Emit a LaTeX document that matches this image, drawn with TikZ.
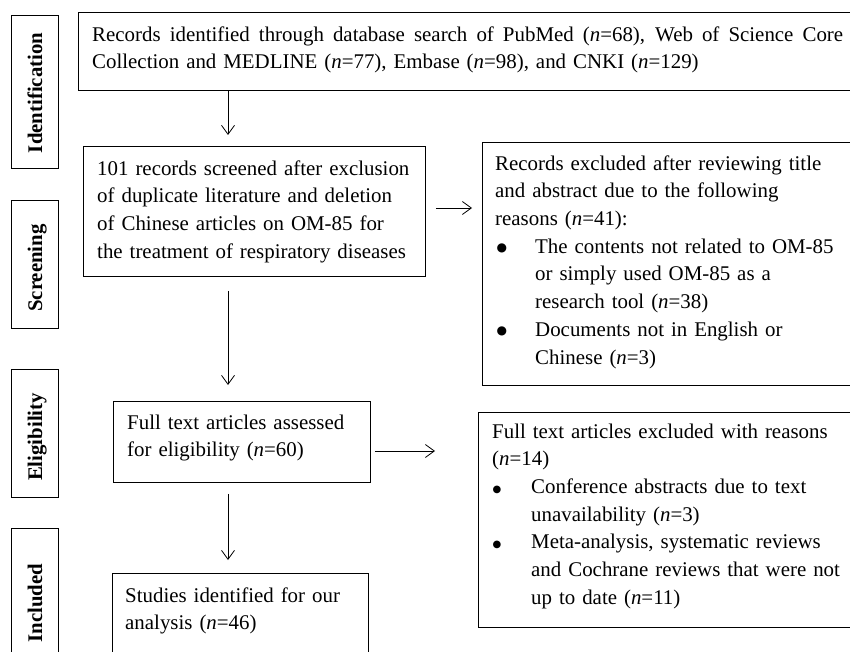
\documentclass[tikz,border=0pt]{standalone}
\usepackage{fontspec}
\setmainfont{Liberation Serif}
\newfontfamily\symfont{DejaVu Sans}
\usetikzlibrary{arrows.meta}
\newcommand\bodyfont{\fontsize{20.9}{27.7}\selectfont}
\newcommand\labfont{\fontsize{20.8}{25}\selectfont\bfseries}
\newcommand\bulA{\makebox[40pt][l]{\hspace{1.5pt}\raisebox{1.5pt}{\symfont\fontsize{12}{12}\selectfont ●}}}
\newcommand\indA{\hspace*{40pt}}
\newcommand\bulB{\makebox[39pt][l]{\hspace{0.5pt}\raisebox{1.5pt}{\symfont\fontsize{10}{10}\selectfont ●}}}
\newcommand\indB{\hspace*{39pt}}
\tikzset{
  box/.style={draw, line width=0.9pt, inner sep=0pt, anchor=north west},
  txt/.style={inner sep=0pt, anchor=north west, font=\bodyfont},
  lab/.style={rotate=90, anchor=base, inner sep=0pt, font=\labfont},
  arr/.style={-{Straight Barb[length=9pt,width=13pt,line width=0.8pt]}, line width=0.9pt},
}
\begin{document}
\begin{tikzpicture}[x=1pt,y=-1pt]
\clip (0,0) rectangle (850,652);
% stage labels
\node[box, minimum width=47pt, minimum height=153pt] (lid) at (11,15) {};
\node[box, minimum width=47pt, minimum height=128pt] (lsc) at (11,200) {};
\node[box, minimum width=47pt, minimum height=128pt] (lel) at (11,369) {};
\node[box, minimum width=47pt, minimum height=170pt] (lin) at (11,528) {};
\node[lab] (tid) at (42,93) {Identification};
\node[lab] (tsc) at (42,268) {Screening};
\node[lab] (tel) at (42,437) {Eligibility};
\node[lab] (tin) at (42,603) {Included};
% boxes
\node[box, minimum width=822pt, minimum height=78pt] (top) at (78,12) {};
\node[box, minimum width=342pt, minimum height=130pt] (scr) at (83,146) {};
\node[box, minimum width=418pt, minimum height=243pt] (ex1) at (482,142) {};
\node[box, minimum width=257pt, minimum height=81pt] (elig) at (113,401) {};
\node[box, minimum width=422pt, minimum height=215pt] (ex2) at (478,412) {};
\node[box, minimum width=256pt, minimum height=127pt] (stud) at (112,573) {};
% texts
\node[txt, text width=760pt] (ttop) at (92,21.6) {\strut\hbox to 751pt{\spaceskip=0.25em plus 3em\relax Records identified through database search of PubMed (\textit{n}=68), Web of Science Core}\\Collection and MEDLINE (\textit{n}=77), Embase (\textit{n}=98), and CNKI (\textit{n}=129)};
\node[txt, text width=330pt] (tscr) at (97,155.6) {\strut 101 records screened after exclusion\\of duplicate literature and deletion\\of Chinese articles on OM-85 for\\the treatment of respiratory diseases};
\node[txt, text width=360pt] (tex1) at (495,150.6) {\strut Records excluded after reviewing title\\and abstract due to the following\\reasons (\textit{n}=41):\\\bulA The contents not related to OM-85\\\indA or simply used OM-85 as a\\\indA research tool (\textit{n}=38)\\\bulA Documents not in English or\\\indA Chinese (\textit{n}=3)};
\node[txt, text width=240pt] (telig) at (127,409.6) {\strut Full text articles assessed\\for eligibility (\textit{n}=60)};
\node[txt, text width=360pt] (tex2) at (492,418.6) {\strut Full text articles excluded with reasons\\(\textit{n}=14)\\\bulB Conference abstracts due to text\\\indB unavailability (\textit{n}=3)\\\bulB Meta-analysis, systematic reviews\\\indB and Cochrane reviews that were not\\\indB up to date (\textit{n}=11)};
\node[txt, text width=240pt] (tstud) at (125,582.6) {\strut Studies identified for our\\analysis (\textit{n}=46)};
% arrows
\coordinate (ax) at (228,0);
\coordinate (ay1) at (0,208);
\coordinate (ay2) at (0,451);
\draw[arr, shorten >=11pt] (top.south -| ax) -- (scr.north -| ax);
\draw[arr, shorten <=14pt, shorten >=16pt] (scr.south -| ax) -- (elig.north -| ax);
\draw[arr, shorten <=11pt, shorten >=13pt] (elig.south -| ax) -- (stud.north -| ax);
\draw[arr, shorten <=10pt, shorten >=10pt] (scr.east |- ay1) -- (ex1.west |- ay1);
\draw[arr, shorten <=4pt, shorten >=43pt] (elig.east |- ay2) -- (ex2.west |- ay2);
\end{tikzpicture}
\end{document}
